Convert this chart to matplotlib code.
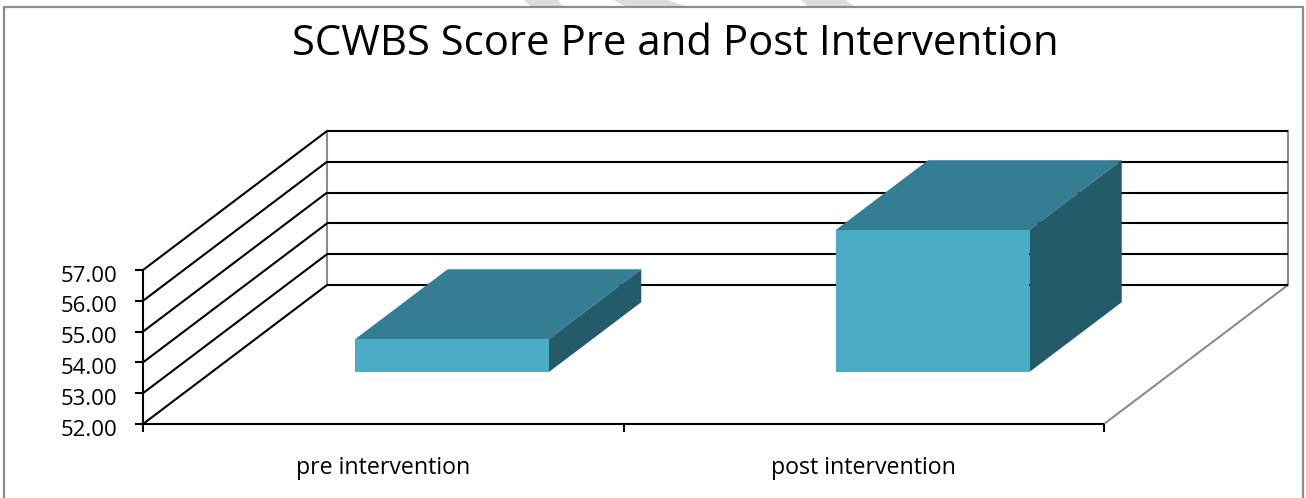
import matplotlib
matplotlib.use("Agg")
import matplotlib.pyplot as plt
from matplotlib.patches import Polygon

categories = ["pre intervention", "post intervention"]
scores = [53.07, 56.61]
y_ticks = [52, 53, 54, 55, 56, 57]
title = "SCWBS Score Pre and Post Intervention"

W, H = 1306, 498
plt.rcParams["font.family"] = ["Open Sans", "DejaVu Sans"]
fig = plt.figure(figsize=(W / 100, H / 100), dpi=100)
fig.patch.set_facecolor("white")

# frame and watermark live in figure pixel space
bg = fig.add_axes([0, 0, 1, 1])
bg.set_xlim(0, W); bg.set_ylim(H, 0); bg.axis("off")
for pts in ([(524, 0), (558, 0), (563, 7), (531, 7)],
            [(613, 0), (667, 0), (688, 7), (627, 7)],
            [(801, 0), (846, 0), (855, 7), (808, 7)]):
    bg.add_patch(Polygon(pts, closed=True, fc="#dcdcdc", ec="none"))
bg.plot([4, 4, 1303, 1303], [498, 7, 7, 498], color="#8c8c8c", lw=1.6)

L, R, T, B = 143, 1104, 270, 424
ax = fig.add_axes([L / W, 1 - B / H, (R - L) / W, (B - T) / H])
ax.set_xlim(-0.5, 1.5)
ax.set_ylim(y_ticks[0], y_ticks[-1])
ax.axis("off")
ax.patch.set_alpha(0)

DX = 184 / ((R - L) / 2)          # full depth in category units
DY = 139 / ((B - T) / (y_ticks[-1] - y_ticks[0]))  # full depth in value units


def proj(c, v, d=0.0):
    return (c + d * DX, v + d * DY)


x0, x1 = -0.5, 1.5
y0, y1 = y_ticks[0], y_ticks[-1]
black = dict(color="black", lw=1.5, clip_on=False, solid_capstyle="butt", zorder=2)
grey = dict(color="#8c8c8c", lw=1.5, clip_on=False, zorder=2)

# walls
ax.plot(*zip(proj(x0, y0, 1), proj(x0, y1, 1)), **grey)
ax.plot(*zip(proj(x1, y0, 1), proj(x1, y1, 1)), **grey)
ax.plot(*zip(proj(x1, y0, 0), proj(x1, y0, 1)), **grey)
for t in y_ticks:
    ax.plot(*zip(proj(x0, t, 1), proj(x1, t, 1)), **black)
    ax.plot(*zip(proj(x0, t, 0), proj(x0, t, 1)), **black)
    ax.plot([x0 - 0.0166, x0], [t, t], **black)
    ax.annotate(f"{t:.2f}", xy=(x0, t), xytext=(-26, -6), textcoords="offset pixels",
                ha="right", va="center", fontsize=16, color="black", annotation_clip=False)

# axes lines and ticks
ax.plot([x0, x0], [y0, y1], **black)
ax.plot([x0, x1], [y0, y0], **black)
for c in (-0.5, 0.5, 1.5):
    ax.plot([c, c], [y0, y0 - 0.26], **black)

# bars
half_w = 0.2015
d_front, d_back = 0.374, 0.876
face, top, side = "#4bacc6", "#357d92", "#245b6b"
for i, (name, val) in enumerate(zip(categories, scores)):
    a, b = i - half_w, i + half_w
    ax.add_patch(Polygon([proj(a, val, d_front), proj(b, val, d_front),
                          proj(b, val, d_back), proj(a, val, d_back)],
                         closed=True, fc=top, ec="none", zorder=3, clip_on=False))
    ax.add_patch(Polygon([proj(b, y0, d_front), proj(b, val, d_front),
                          proj(b, val, d_back), proj(b, y0, d_back)],
                         closed=True, fc=side, ec="none", zorder=3, clip_on=False))
    ax.add_patch(Polygon([proj(a, y0, d_front), proj(b, y0, d_front),
                          proj(b, val, d_front), proj(a, val, d_front)],
                         closed=True, fc=face, ec="none", zorder=4, clip_on=False))
    ax.annotate(name, xy=(i, y0), xytext=(0, -44), textcoords="offset pixels",
                ha="center", va="center", fontsize=16.7, color="black", annotation_clip=False)

fig.text(675 / W, 1 - 44 / H, title, ha="center", va="center", fontsize=30.2, color="black")

fig.savefig("out.png", dpi=100)
